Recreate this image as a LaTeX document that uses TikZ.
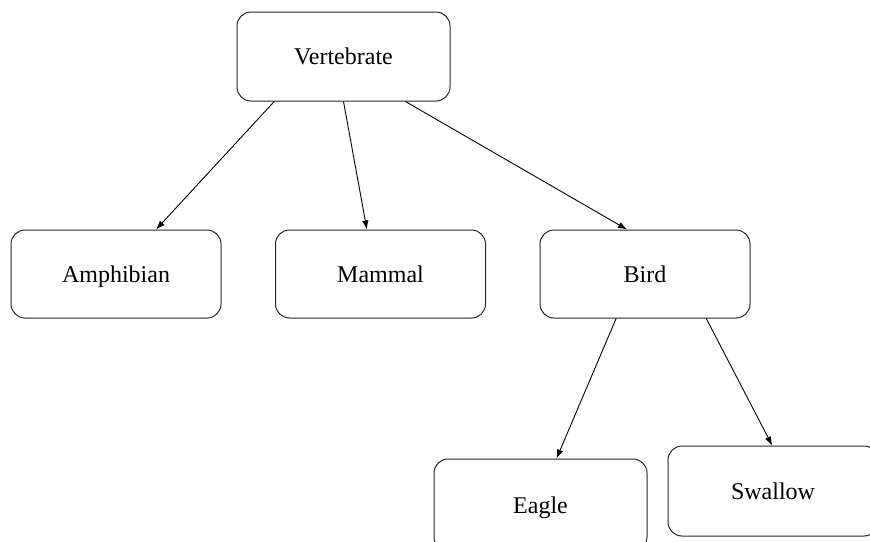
\documentclass[tikz,border=0pt]{standalone}
\usepackage{fontspec}
\setmainfont{Liberation Serif}
\usetikzlibrary{arrows.meta}

\tikzset{
  taxon/.style={draw=black!85, line width=0.5pt, rounded corners=7pt,
    minimum width=105pt, minimum height=44pt, inner sep=0pt,
    text height=8pt, text depth=0pt, font=\fontsize{12}{14}\selectfont},
  link/.style={line width=0.45pt, arrows=-{Latex[length=4.5pt,width=3.2pt]}}
}

\begin{document}
\begin{tikzpicture}[x=0.5pt,y=-0.5pt]
          \useasboundingbox (0,0) rectangle (870,541);
          \clip (0,0) rectangle (870,541);

          \node [taxon, minimum width=106.5pt, minimum height=44.5pt] (vert) at (343.5,56.5) {Vertebrate}; % root

          \node [taxon] (amph) at (116,274) {Amphibian}; % second row
          \node [taxon] (mamm) at (380.5,274) {Mammal};
          \node [taxon] (bird) at (645,274) {Bird};

          \node [taxon, minimum width=106.5pt, minimum height=46pt] (eagle) at (540.5,505) {Eagle}; % birds
          \node [taxon, minimum height=45pt] (swal) at (773,491) {Swallow};

          \draw [link] (vert.213) -- (amph.48);
          \draw [link] (vert.270) -- (mamm.107);
          \draw [link] (vert.324) -- (bird.112);

          \draw [link] (bird.237) -- (eagle.71);
          \draw [link] (bird.324) -- (swal.91);
\end{tikzpicture}
\end{document}
